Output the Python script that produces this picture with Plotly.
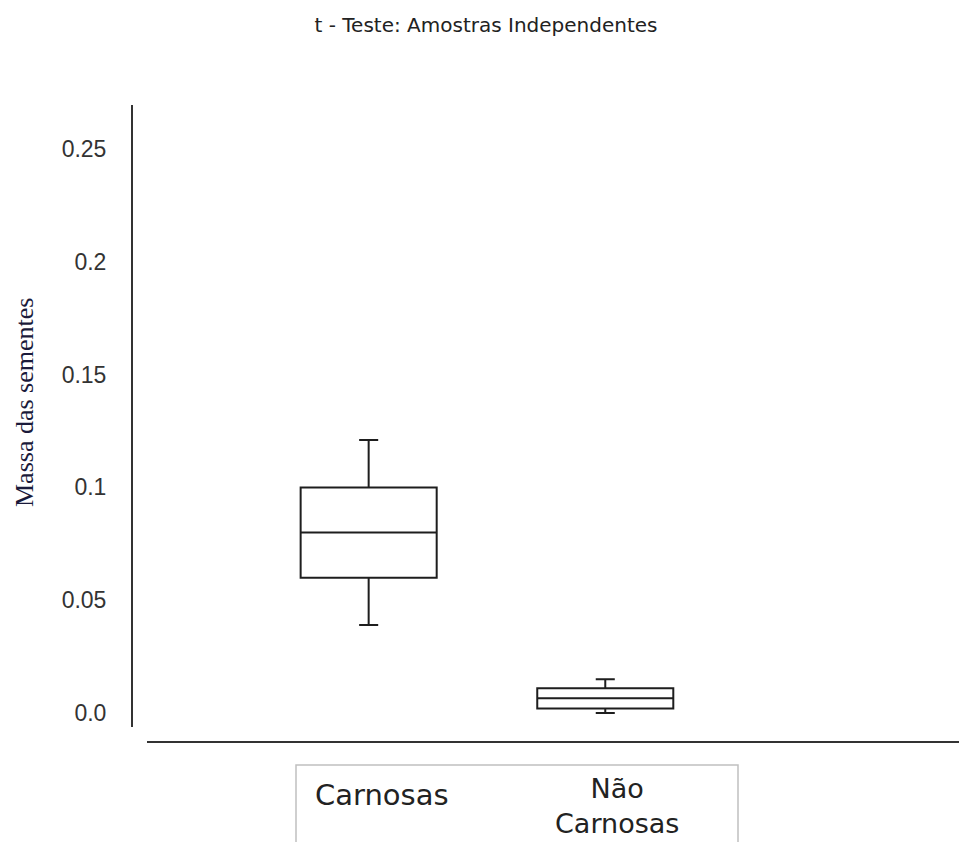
import plotly.graph_objects as go

# ---- data ----
categories = ["Carnosas", "Não<br>Carnosas"]
lower_fence = [0.039, 0.0]
q1_vals = [0.060, 0.002]
median_vals = [0.080, 0.0065]
q3_vals = [0.100, 0.011]
upper_fence = [0.121, 0.015]
tick_vals = [0.0, 0.05, 0.1, 0.15, 0.2, 0.25]
tick_text = ["0.0", "0.05", "0.1", "0.15", "0.2", "0.25"]

title_text = "t - Teste: Amostras Independentes"
y_title = "Massa das sementes"

# page body has an 8px margin; work in screen pixels and convert
OFF = 8
W, H = 951, 834
L, T = 133 - OFF, 105 - OFF
plot_bottom = 727 - OFF
B = H - plot_bottom
plot_h = plot_bottom - T
plot_w = W - L

def py(screen_y):
    return -(screen_y - OFF - plot_bottom) / plot_h

def px(screen_x):
    return (screen_x - OFF - L) / plot_w

fig = go.Figure()
for i, cat in enumerate(categories):
    fig.add_trace(go.Box(
        x=[i], q1=[q1_vals[i]], median=[median_vals[i]], q3=[q3_vals[i]],
        lowerfence=[lower_fence[i]], upperfence=[upper_fence[i]],
        width=0.575, whiskerwidth=0.14,
        line=dict(color="#1e1e1e", width=2),
        fillcolor="white", boxpoints=False, showlegend=False,
        hoverinfo="skip",
    ))

fig.update_layout(
    width=W, height=H,
    margin=dict(l=L, r=0, t=T, b=B),
    paper_bgcolor="white", plot_bgcolor="white",
    title=dict(text=title_text, x=(486 - OFF) / W, xref="container",
               xanchor="center", y=1 - (25 - OFF) / H, yref="container",
               yanchor="middle",
               font=dict(family="DejaVu Sans", size=20, color="#222222")),
    xaxis=dict(range=[-0.996, 2.495], showgrid=False, zeroline=False,
               showticklabels=False, showline=False, ticks=""),
    yaxis=dict(range=[-0.0062, 0.2695], showgrid=False, zeroline=False,
               showline=True, linecolor="#333333", linewidth=2,
               tickvals=tick_vals, ticktext=tick_text,
               ticks="outside", ticklen=20, tickcolor="rgba(0,0,0,0)",
               tickfont=dict(family="Liberation Sans", size=23, color="#333333")),
    shapes=[
        dict(type="line", xref="paper", yref="paper",
             x0=px(147), x1=1.0, y0=py(742), y1=py(742),
             line=dict(color="#333333", width=2)),
        dict(type="rect", xref="paper", yref="paper",
             x0=px(296), x1=px(738), y0=py(765), y1=py(880),
             line=dict(color="#c0c0c0", width=1.5), fillcolor="rgba(0,0,0,0)"),
    ],
    annotations=[
        dict(text=y_title, xref="paper", yref="paper", x=0,
             xshift=(24 - OFF) - L, y=py(403), textangle=-90, showarrow=False,
             xanchor="center", yanchor="middle",
             font=dict(family="Liberation Serif", size=26, color="#1a1a3a")),
        dict(text=categories[0], xref="x", yref="paper", x=0, xshift=13,
             y=py(795), showarrow=False, xanchor="center", yanchor="middle",
             font=dict(family="DejaVu Sans", size=29, color="#222222")),
        dict(text=categories[1], xref="x", yref="paper", x=1, xshift=12,
             y=py(806), showarrow=False, xanchor="center", yanchor="middle",
             align="center",
             font=dict(family="DejaVu Sans", size=27, color="#222222")),
    ],
)

fig.write_html("out.html")
